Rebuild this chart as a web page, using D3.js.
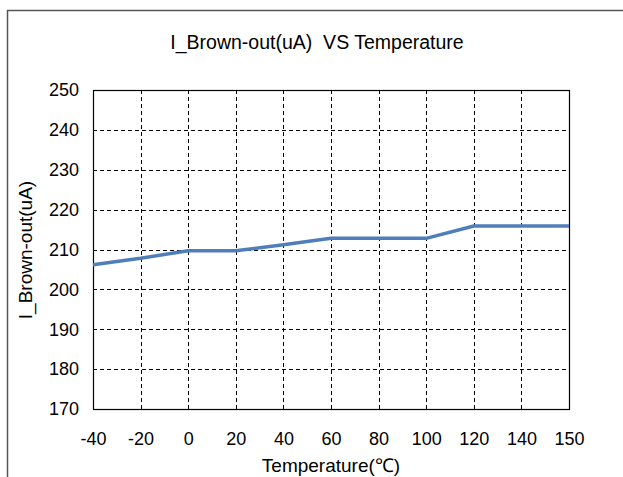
<!DOCTYPE html>
<html>
<head>
<meta charset="utf-8">
<script src="https://cdn.jsdelivr.net/npm/d3@7"></script>
<style>
  body { margin: 0; background: #fff; }
  text { font-family: "Liberation Sans", Arial, sans-serif; fill: #000; }
</style>
</head>
<body>
<div id="chart"></div>
<script>
const width = 623, height = 477;
const temps = ['-40', '-20', '0', '20', '40', '60', '80', '100', '120', '140', '150'];
const current = [206.2, 207.8, 209.7, 209.7, 211.2, 212.8, 212.8, 212.8, 215.9, 215.9, 215.9];
const yTicks = [170, 180, 190, 200, 210, 220, 230, 240, 250];

const plotLeft = 93, plotRight = 569, plotTop = 90, plotBottom = 409;

let svg = d3.select("#chart").
append("svg").
attr("width", width).
attr("height", height);

// outer chart frame (runs off the right and bottom edge)
svg.append("rect").
attr("x", 7.5).
attr("y", 10.5).
attr("width", 700).
attr("height", 600).
attr("fill", "none").
attr("stroke", "#555").
attr("stroke-width", 1.5);

const xScale = d3.scalePoint().
domain(temps).
range([plotLeft, plotRight]);

const yScale = d3.scaleLinear().
domain([170, 250]).
range([plotBottom, plotTop]);

// dashed grid
svg.append("g").
selectAll("line").
data(yTicks.slice(1, -1)).
enter().
append("line").
attr("x1", plotLeft).
attr("x2", plotRight).
attr("y1", d => Math.round(yScale(d)) + 0.5).
attr("y2", d => Math.round(yScale(d)) + 0.5).
attr("stroke", "#000").
attr("stroke-dasharray", "4,3");

svg.append("g").
selectAll("line").
data(temps.slice(1, -1)).
enter().
append("line").
attr("x1", d => Math.round(xScale(d)) + 0.5).
attr("x2", d => Math.round(xScale(d)) + 0.5).
attr("y1", plotTop).
attr("y2", plotBottom).
attr("stroke", "#000").
attr("stroke-dasharray", "4,3");

// plot border
svg.append("rect").
attr("x", plotLeft + 0.5).
attr("y", plotTop + 0.5).
attr("width", plotRight - plotLeft).
attr("height", plotBottom - plotTop).
attr("fill", "none").
attr("stroke", "#000").
attr("stroke-width", 1.2);

// axes labels
const yAxis = d3.axisLeft(yScale).tickValues(yTicks).tickSize(0).tickPadding(14);
svg.append("g").
attr("transform", "translate(" + plotLeft + ",0)").
call(yAxis).
call(g => g.select(".domain").remove()).
selectAll("text").
style("font-size", "18px").
style("font-family", "Liberation Sans, Arial, sans-serif");

const xAxis = d3.axisBottom(xScale).tickSize(0).tickPadding(23);
svg.append("g").
attr("transform", "translate(0," + plotBottom + ")").
call(xAxis).
call(g => g.select(".domain").remove()).
selectAll("text").
style("font-size", "18px").
style("font-family", "Liberation Sans, Arial, sans-serif");

// the series
const line = d3.line().
x((d, i) => xScale(temps[i])).
y(d => yScale(d));

svg.append("path").
datum(current).
attr("d", line).
attr("fill", "none").
attr("stroke", "#4f7fba").
attr("stroke-width", 3.5).
attr("stroke-linejoin", "round");

// titles
svg.append("text").
attr("x", 317).
attr("y", 49).
attr("text-anchor", "middle").
style("font-size", "19.5px").
style("white-space", "pre").
text("I_Brown-out(uA)  VS Temperature");

svg.append("text").
attr("x", 331).
attr("y", 472).
attr("text-anchor", "middle").
style("font-size", "19px").
text("Temperature(℃)");

svg.append("text").
attr("transform", "translate(32,250) rotate(-90)").
attr("text-anchor", "middle").
style("font-size", "19px").
text("I_Brown-out(uA)");
</script>
</body>
</html>
